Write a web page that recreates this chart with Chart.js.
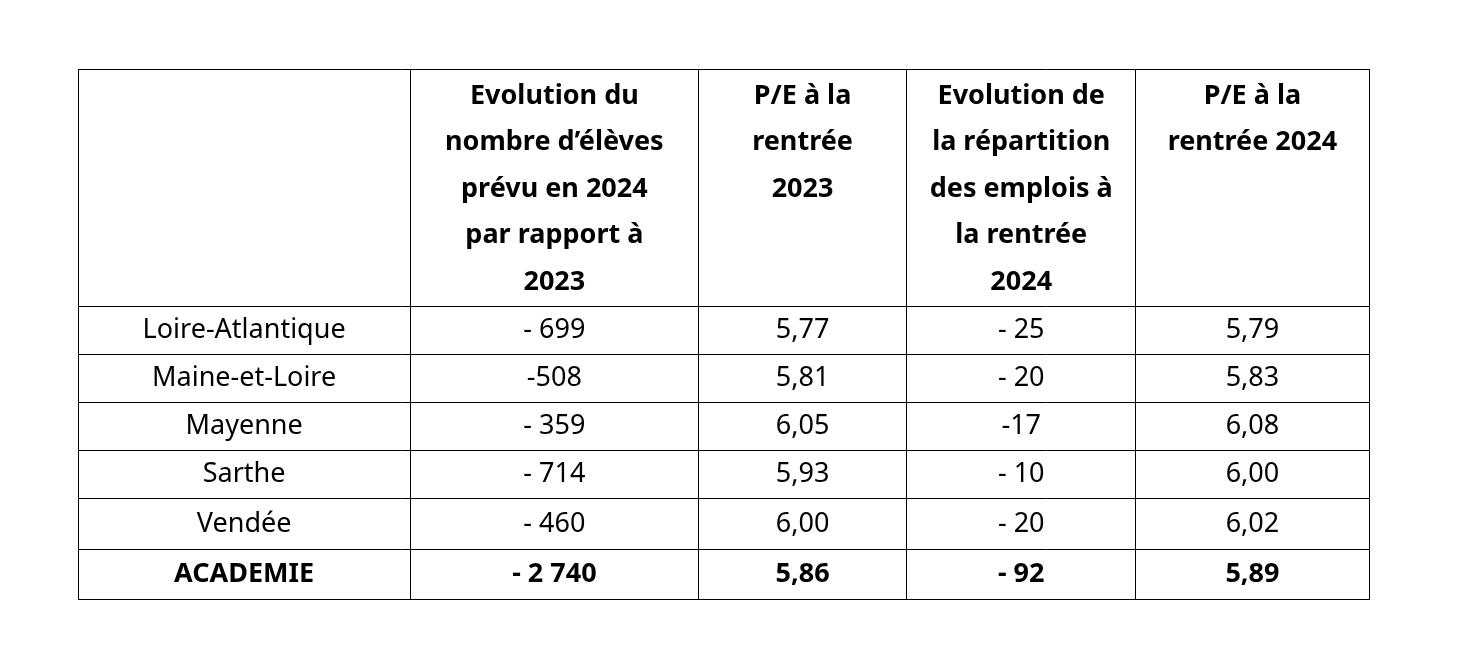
<!DOCTYPE html>
<html><head><meta charset="utf-8">
<script src="https://cdn.jsdelivr.net/npm/chart.js@4"></script>
<style>html,body{margin:0;padding:0;background:#fff}#w{width:1466px;height:660px}</style>
</head><body><div id="w"><canvas id="c"></canvas></div>
<script>
const headers = [
  [],
  ["Evolution du","nombre d’élèves","prévu en 2024","par rapport à","2023"],
  ["P/E à la","rentrée","2023"],
  ["Evolution de","la répartition","des emplois à","la rentrée","2024"],
  ["P/E à la","rentrée 2024"]
];
const departements = ["Loire-Atlantique","Maine-et-Loire","Mayenne","Sarthe","Vendée","ACADEMIE"];
const evolEleves = ["- 699","-508","- 359","- 714","- 460","- 2 740"];
const pe2023 = ["5,77","5,81","6,05","5,93","6,00","5,86"];
const evolEmplois = ["- 25","- 20","-17","- 10","- 20","- 92"];
const pe2024 = ["5,79","5,83","6,08","6,00","6,02","5,89"];

// layout (scale units)
const colEdges = [0, 332, 620, 828, 1057, 1290];
const rowEdges = [0, 237, 285, 333, 381, 429, 480, 529];

const columns = [departements, evolEleves, pe2023, evolEmplois, pe2024];
const FONT = '"Noto Sans", sans-serif';

const tablePlugin = {
  id: 'table',
  afterDraw(chart) {
    const ctx = chart.ctx, xs = chart.scales.x, ys = chart.scales.y;
    ctx.save();
    ctx.fillStyle = '#000';
    ctx.textAlign = 'center';
    ctx.textBaseline = 'middle';
    // headers
    ctx.font = 'bold 27px ' + FONT;
    headers.forEach((lines, c) => {
      const cx = xs.getPixelForValue((colEdges[c] + colEdges[c+1]) / 2);
      const top = ys.getPixelForValue(rowEdges[0]);
      lines.forEach((t, i) => ctx.fillText(t, cx, top + 27 + i * 46.5));
    });
    // body
    columns.forEach((col, c) => {
      const cx = xs.getPixelForValue((colEdges[c] + colEdges[c+1]) / 2);
      col.forEach((t, r) => {
        const cy = ys.getPixelForValue((rowEdges[r+1] + rowEdges[r+2]) / 2);
        ctx.font = (r === col.length - 1 ? 'bold ' : '') + '27px ' + FONT;
        ctx.fillText(t, cx, cy);
      });
    });
    ctx.restore();
  }
};

const edgeTicks = edges => scale => { scale.ticks = edges.map(v => ({value: v})); };

new Chart(document.getElementById('c'), {
  type: 'scatter',
  data: { datasets: [{ data: [], pointRadius: 0 }] },
  options: {
    responsive: true, maintainAspectRatio: false, animation: false,
    layout: { padding: { left: 78, right: 97, top: 69, bottom: 61 } },
    plugins: { legend: { display: false }, tooltip: { enabled: false } },
    scales: {
      x: {
        type: 'linear', min: colEdges[0], max: colEdges[colEdges.length-1],
        afterBuildTicks: edgeTicks(colEdges),
        ticks: { display: false, padding: 0 },
        grid: { color: '#000', lineWidth: 1, tickLength: 0, drawTicks: false },
        border: { color: '#000', width: 1 }
      },
      y: {
        type: 'linear', reverse: true, min: rowEdges[0], max: rowEdges[rowEdges.length-1],
        afterBuildTicks: edgeTicks(rowEdges),
        ticks: { display: false, padding: 0 },
        grid: { color: '#000', lineWidth: 1, tickLength: 0, drawTicks: false },
        border: { color: '#000', width: 1 }
      }
    }
  },
  plugins: [tablePlugin]
});
</script></body></html>
